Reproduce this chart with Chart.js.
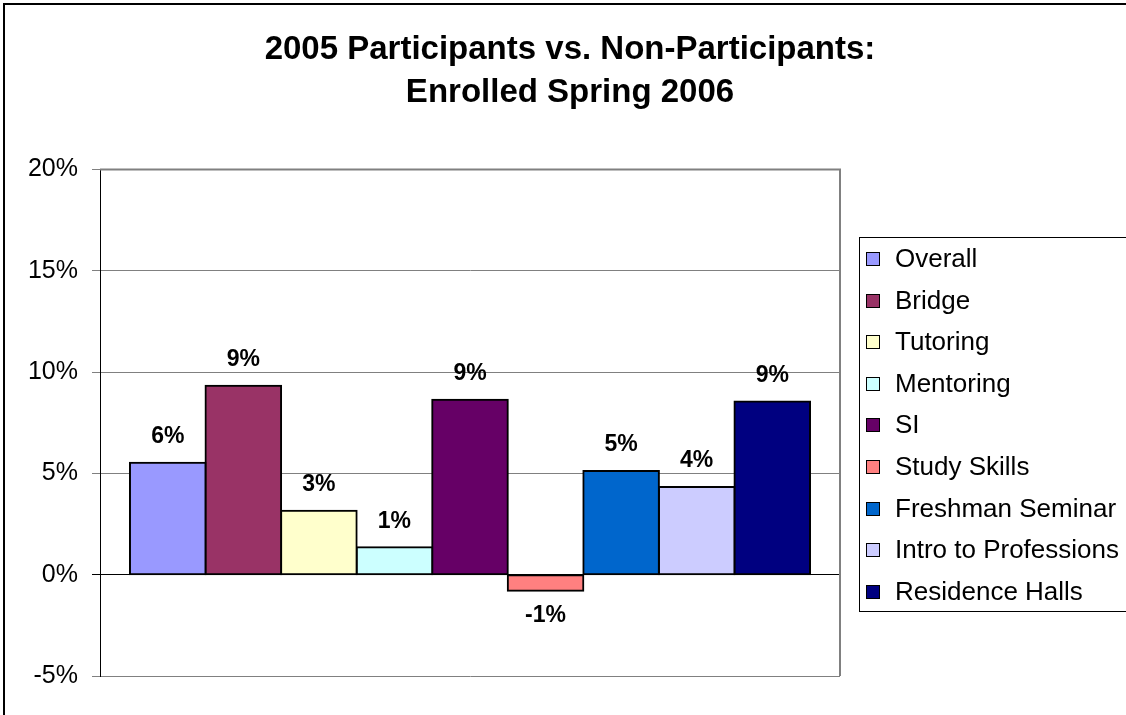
<!DOCTYPE html>
<html>
<head>
<meta charset="utf-8">
<title>2005 Participants vs. Non-Participants</title>
<script src="https://cdn.jsdelivr.net/npm/chart.js@4"></script>
<style>
  html, body { margin: 0; padding: 0; background: #fff; }
  #wrap { width: 1126px; height: 715px; }
</style>
</head>
<body>
<div id="wrap"><canvas id="chart" width="1126" height="715"></canvas></div>
<script>
(function () {
  'use strict';

  // Data (difference in %, participants minus non-participants)
  var programs = ['Overall', 'Bridge', 'Tutoring', 'Mentoring', 'SI', 'Study Skills',
    'Freshman Seminar', 'Intro to Professions', 'Residence Halls'];
  var diffPct = [5.52, 9.33, 3.16, 1.35, 8.63, -0.79, 5.12, 4.33, 8.55];
  var barColors = ['#9999FF', '#993366', '#FFFFCC', '#CCFFFF', '#660066', '#FF8080',
    '#0066CC', '#CCCCFF', '#000080'];
  var titleLines = ['2005 Participants vs. Non-Participants:', 'Enrolled Spring 2006'];
  var yMin = -5, yMax = 20, yStep = 5;

  var FONT = '"Liberation Sans", Arial, Helvetica, sans-serif';

  var datasets = programs.map(function (name, i) {
    return {
      label: name,
      data: [diffPct[i]],
      backgroundColor: barColors[i],
      borderColor: '#000',
      borderWidth: 2,
      borderSkipped: false,
      inflateAmount: 1,
      categoryPercentage: 0.919,
      barPercentage: 1
    };
  });

  // outer frame + plot area right edge
  var framePlugin = {
    id: 'frame',
    beforeDraw: function (chart) {
      var c = chart.ctx;
      c.save();
      c.fillStyle = '#fff';
      c.fillRect(0, 0, chart.width, chart.height);
      c.fillStyle = '#000';
      c.fillRect(3, 3, 2, chart.height);
      c.fillRect(3, 3, chart.width, 2);
      c.restore();
    },
    beforeDatasetsDraw: function (chart) {
      var a = chart.chartArea, c = chart.ctx;
      c.save();
      c.strokeStyle = '#808080';
      c.lineWidth = 2;
      c.beginPath();
      c.moveTo(a.left, a.top);
      c.lineTo(a.right, a.top);
      c.lineTo(a.right, a.bottom);
      c.stroke();
      c.restore();
    }
  };

  // value labels above / below each bar
  var valueLabels = {
    id: 'valueLabels',
    afterDatasetsDraw: function (chart) {
      var c = chart.ctx;
      c.save();
      c.font = 'bold 23px ' + FONT;
      c.fillStyle = '#000';
      c.textAlign = 'center';
      c.textBaseline = 'middle';
      chart.data.datasets.forEach(function (ds, i) {
        var bar = chart.getDatasetMeta(i).data[0];
        var v = ds.data[0];
        var y = v >= 0 ? bar.y - 26 : bar.y + 25;
        c.fillText(Math.round(v) + '%', bar.x, y);
      });
      c.restore();
    }
  };

  // boxed legend on the right
  var boxLegend = {
    id: 'boxLegend',
    afterDraw: function (chart) {
      var a = chart.chartArea, c = chart.ctx;
      var left = a.right + 19, top = 237, rowH = 41.6;
      var n = chart.data.datasets.length;
      c.save();
      c.strokeStyle = '#000';
      c.lineWidth = 1;
      c.strokeRect(left + 0.5, top + 0.5, 300, Math.round(rowH * n));
      c.font = '26px ' + FONT;
      c.textBaseline = 'middle';
      c.textAlign = 'left';
      chart.data.datasets.forEach(function (ds, i) {
        var cy = Math.round(top + 22 + i * rowH);
        c.fillStyle = ds.backgroundColor;
        c.fillRect(left + 7, cy - 7, 14, 14);
        c.strokeRect(left + 7.5, cy - 6.5, 13, 13);
        c.fillStyle = '#000';
        c.fillText(ds.label, left + 36, cy + 1);
      });
      c.restore();
    }
  };

  new Chart(document.getElementById('chart'), {
    type: 'bar',
    data: { labels: [''], datasets: datasets },
    options: {
      responsive: false,
      animation: false,
      devicePixelRatio: 1,
      layout: { padding: { left: 14, right: 0, top: 0, bottom: 39 } },
      plugins: {
        legend: { display: false },
        tooltip: { enabled: false },
        title: {
          display: true,
          text: titleLines,
          color: '#000',
          font: { family: FONT, size: 33, weight: 'bold', lineHeight: 1.31 },
          padding: { top: 28, bottom: 55 }
        }
      },
      scales: {
        x: { display: false },
        y: {
          min: yMin,
          max: yMax,
          ticks: {
            stepSize: yStep,
            color: '#000',
            padding: 14,
            font: { family: FONT, size: 25 },
            callback: function (v) { return v + '%'; }
          },
          grid: {
            color: function (ctx) { return ctx.tick && ctx.tick.value === 0 ? '#000' : '#808080'; },
            lineWidth: 1,
            tickLength: 8
          },
          border: { display: true, color: '#000', width: 1 },
          afterFit: function (s) { s.width = 86; }
        },
        side: {
          type: 'linear',
          position: 'right',
          display: true,
          ticks: { display: false },
          grid: { display: false },
          border: { display: false },
          afterFit: function (s) { s.width = 286; }
        }
      }
    },
    plugins: [framePlugin, valueLabels, boxLegend]
  });
})();
</script>
</body>
</html>
